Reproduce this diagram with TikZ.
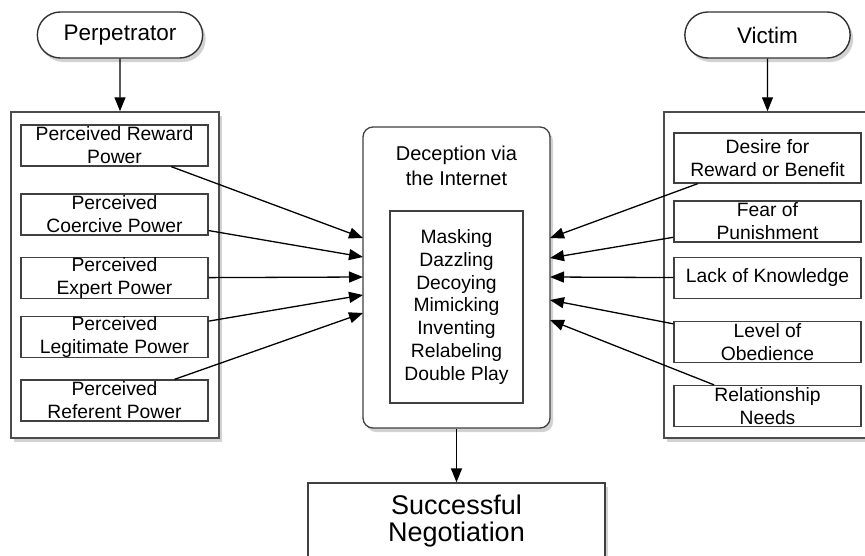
\documentclass[tikz,border=0pt]{standalone}
\usepackage{fontspec}
\setmainfont{Liberation Sans}
\usetikzlibrary{arrows.meta,shapes.misc,shadows}

\begin{document}
\begin{tikzpicture}[x=1pt,y=-1pt,
  box/.style={draw=black!75, line width=1.3pt, fill=white, align=center, inner sep=0pt,
    font=\fontsize{19.3}{23}\selectfont},
  factor/.style={box, minimum width=187pt, minimum height=41pt},
  shade/.style={drop shadow={shadow xshift=3pt, shadow yshift=-4pt, opacity=.35}},
  panel/.style={draw=black!70, line width=1.5pt, fill=white, minimum width=208pt,
    minimum height=326pt, shade},
  party/.style={rounded rectangle, draw=black!80, line width=1.4pt, fill=white,
    minimum width=172pt, minimum height=46pt, font=\fontsize{22.5}{26}\selectfont, shade},
  flow/.style={-{Triangle[length=14pt,width=11pt]}, line width=1.3pt}]
\useasboundingbox (0,0) rectangle (865,555);
\clip (0,0) rectangle (865,555);
\fill[white] (0,0) rectangle (865,555);

% the two parties
\node[party] (perp) at (120,35) {Perpetrator};
\node[party] (vict) at (767.5,35) {Victim};
\node[panel] (lpanel) at (115,275) {};
\node[panel] (rpanel) at (768,275) {};
\draw[flow] (perp) -- (perp |- lpanel.north);
\draw[flow] (vict) -- (vict |- rpanel.north);

% perceived powers
\node[factor] (reward) at (114.5,145.5) {Perceived Reward\\Power};
\node[factor] (coerce) at (114.5,214.5) {Perceived\\Coercive Power};
\node[factor] (expert) at (114.5,278) {Perceived\\Expert Power};
\node[factor] (legit) at (114.5,337) {Perceived\\Legitimate Power};
\node[factor] (refer) at (114.5,400.5) {Perceived\\Referent Power};

% victim factors
\node[factor, minimum height=50pt] (desire) at (767.5,158) {Desire for\\Reward or Benefit};
\node[factor] (fear) at (767.5,221.5) {Fear of\\Punishment};
\node[factor] (lack) at (767.5,278) {Lack of Knowledge};
\node[factor] (obey) at (767.5,342) {Level of\\Obedience};
\node[factor] (need) at (767.5,406) {Relationship\\Needs};

% deception
\node[box, rounded corners=10pt, minimum width=187pt, minimum height=301pt, shade] (decep) at (456.5,277.5) {};
\node[font=\fontsize{20}{25}\selectfont, align=center] (dtitle) at (456.5,166) {Deception via\\the Internet};
\node[box, minimum width=133pt, minimum height=192pt, font=\fontsize{19.3}{22.7}\selectfont] (tactics) at (456.5,307)
  {Masking\\Dazzling\\Decoying\\Mimicking\\Inventing\\Relabeling\\Double Play};

\coordinate (lin1) at (363,238);
\coordinate (lin2) at (363,257);
\coordinate (lin3) at (363,277);
\coordinate (lin4) at (363,295);
\coordinate (lin5) at (363,313);
\coordinate (rin1) at (550,238);
\coordinate (rin2) at (550,258);
\coordinate (rin3) at (550,277);
\coordinate (rin4) at (550,300);
\coordinate (rin5) at (550,320);

\draw[flow] (reward) -- (lin1);
\draw[flow] (coerce) -- (lin2);
\draw[flow] (expert) -- (lin3);
\draw[flow] (legit) -- (lin4);
\draw[flow] (refer) -- (lin5);
\draw[flow] (desire) -- (rin1);
\draw[flow] (fear) -- (rin2);
\draw[flow] (lack) -- (rin3);
\draw[flow] (obey) -- (rin4);
\draw[flow] (need) -- (rin5);

% outcome
\node[box, minimum width=297pt, minimum height=76pt, font=\fontsize{27}{27.5}\selectfont, shade] (nego) at (456.5,521) {Successful\\Negotiation};
\draw[flow] (decep) -- (nego);

\end{tikzpicture}
\end{document}
